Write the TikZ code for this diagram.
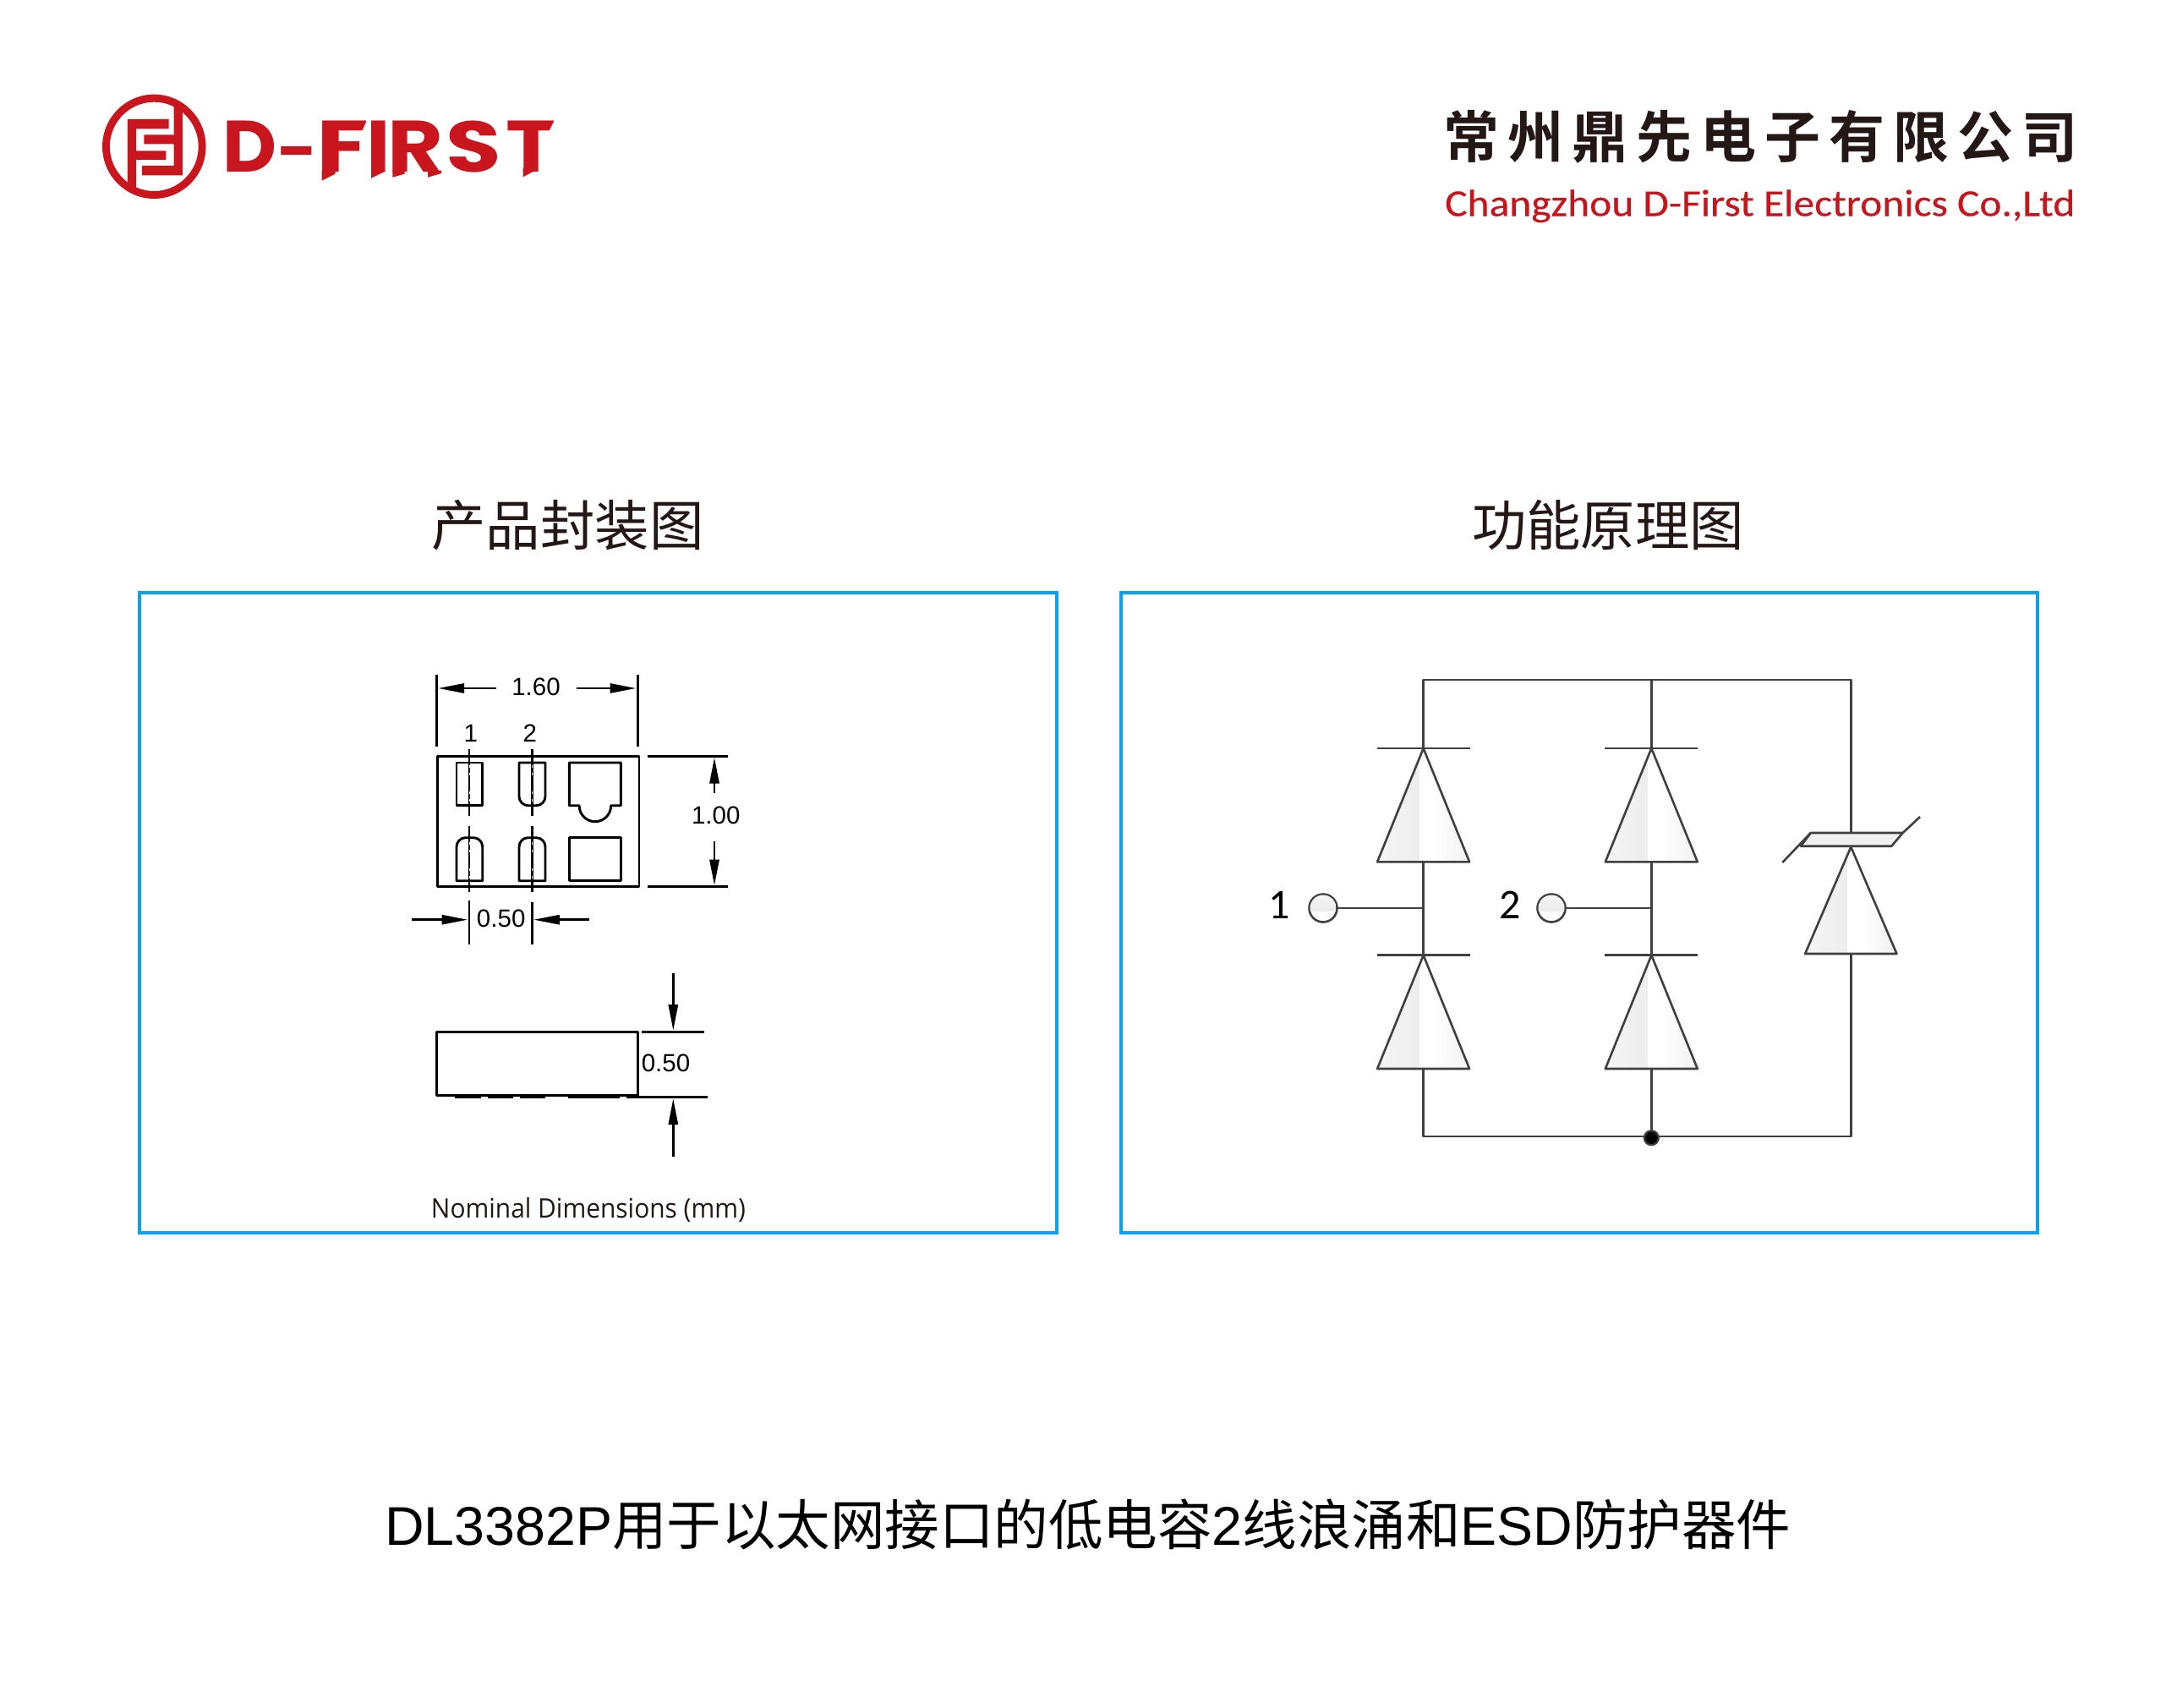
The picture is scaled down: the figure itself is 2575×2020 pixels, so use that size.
\documentclass[tikz,border=0pt]{standalone}
\usepackage{fontspec}
\usetikzlibrary{arrows.meta}
\setmainfont{Liberation Sans}
\newfontfamily\cjkf{Noto Sans CJK SC}
\newfontfamily\cjkb[LetterSpace=15.2,BoldFont={Noto Sans CJK SC Bold}]{Noto Sans CJK SC}
\newfontfamily\carl{Carlito}
\newfontfamily\carlb[FakeBold=0.25]{Carlito}
\newfontfamily\opens{Open Sans}
\newfontfamily\logof{Poppins}
\definecolor{dfred}{HTML}{C9151E}
\definecolor{dfred2}{HTML}{C4161C}
\definecolor{dfink}{HTML}{231815}
\definecolor{dfblue}{HTML}{0FA0E6}
\definecolor{dfline}{HTML}{404040}
\tikzset{
  panelbox/.style={draw=dfblue,line width=4pt},
  pkg/.style={draw=black,line width=2.9pt,line join=round},
  dimline/.style={draw=black,line width=2.9pt},
  dimarrow/.style={draw=black,line width=2.9pt,-{Triangle[length=31pt,width=11pt]}},
  dimtext/.style={anchor=base,inner sep=0pt,font=\fontsize{29.5}{32}\selectfont},
  wire/.style={draw=dfline,line width=2.6pt,line join=round},
  headtext/.style={anchor=base,inner sep=0pt,text=dfink,font=\fontsize{64.4}{70}\selectfont\cjkf},
}
\newcommand{\dfdiode}[5]{% name, tip x, tip y, base y, half width
  \begin{scope}
    \clip (#2,#3) -- (#2+#5,#4) -- (#2-#5,#4) -- cycle;
    \shade[left color=white!96!black,right color=white!93!black] (#2-#5,#3) rectangle (#2-5,#4);
    \shade[left color=white,right color=white!95!black] (#2+10,#3) rectangle (#2+#5,#4);
  \end{scope}
  \draw[wire] (#2,#3) -- (#2+#5,#4) -- (#2-#5,#4) -- cycle;
  \coordinate (#1tip) at (#2,#3);
  \coordinate (#1base) at (#2,#4);
}
\newcommand{\dfcentre}[3]{% x, y0, y1
  \draw[dimline,line width=2.4pt] (#1,#2) -- (#1,#3);
}
\newcommand{\dflg}[3]{\rlap{\hskip#1pt\resizebox{#2pt}{60.5pt}{\logof\bfseries #3}}}
\begin{document}
\begin{tikzpicture}[x=1pt,y=-1pt]
\useasboundingbox (0,0) rectangle (2575,2020);
\fill[white] (0,0) rectangle (2575,2020);

% ---- logo mark (coordinates of the 600x170 crop)
\begin{scope}[shift={(100,90)},xscale=1/2.613,yscale=1/3]
  \fill[dfred,even odd rule] (215,250) ellipse [x radius=160,y radius=185]
                             (215,250) ellipse [x radius=137,y radius=158];
  \fill[dfred] (133,153) -- (260,153) -- (260,187) -- (160,187) -- (160,265) -- (252,265)
     -- (252,297) -- (160,297) -- (160,405) -- (133,385) -- cycle;
  \fill[dfred] (184,208) -- (276,208) -- (276,95) -- (303,110) -- (303,352) -- (178,352)
     -- (178,318) -- (276,318) -- (276,241) -- (184,241) -- cycle;
\end{scope}
\node[anchor=base west,inner sep=0pt,text=dfred] (brand) at (269,204)
  {\hbox to 387pt{\dflg{-6}{64}{D}%
    \rlap{\hskip59.5pt\resizebox{47.5pt}{30pt}{\logof\bfseries -}}%
    \dflg{105.5}{62.5}{F}\dflg{164}{28.5}{I}\dflg{189}{66}{R}\dflg{258.5}{65.5}{S}\dflg{329}{60}{T}\hss}};
\begin{scope}[shift={(100,90)},xscale=1/2.613,yscale=1/3]
  % cut ends of the word mark
  \fill[dfred] (733,335) -- (775,335) -- (775,347) -- (733,371) -- cycle;
  \fill[dfred] (886,335) -- (929,335) -- (929,338) -- (886,362) -- cycle;
  \fill[dfred] (952,335) -- (989,335) -- (989,347) -- (952,359) -- cycle;
  \fill[dfred] (1061,335) -- (1103,335) -- (1103,345) -- (1061,359) -- cycle;
  \fill[dfred] (1355,325) -- (1401,325) -- (1401,330) -- (1355,358) -- cycle;
  \fill[white] (873,155) -- (855,204) -- (884,204) -- (884,155) -- cycle;
  \fill[white] (873,248) -- (851,296) -- (884,296) -- (884,248) -- cycle;
  \fill[white] (1453,155) -- (1432,204) -- (1470,204) -- (1470,155) -- cycle;
\end{scope}

% ---- company name
\node[anchor=base west,inner sep=0pt,text=dfink] (cn) at (1707,187)
  {\fontsize{66}{70}\selectfont\cjkb\bfseries 常州鼎先电子有限公司};
\node[anchor=base west,inner sep=0pt,text=dfred2] (en) at (1709,255.5)
  {\scalebox{1.1}[1]{\fontsize{45}{50}\selectfont\carlb Changzhou D-First Electronics Co.,Ltd}};

% ---- headings
\node[headtext] (h1) at (671.5,645) {产品封装图};
\node[headtext] (h2) at (1902,645) {功能原理图};
\node[anchor=base west,inner sep=0pt,text=black,font=\fontsize{64.5}{70}\selectfont] (foot) at (455,1827)
  {DL3382P{\cjkf 用于以太网接口的低电容}2{\cjkf 线浪涌和}ESD{\cjkf 防护器件}};

% ---- panels
\draw[panelbox] (165,700.5) rectangle (1250,1457.5);
\draw[panelbox] (1326,700.5) rectangle (2410,1457.5);

% ---- package top view
\draw[pkg] (517.7,894.3) rectangle (756,1048.7);
\draw[pkg] (540,902) rectangle (570.7,952.7);
\draw[pkg] (614,902) -- (645,902) -- (645,942) arc[start angle=0,end angle=90,radius=10.7] -- (624.7,952.7) arc[start angle=90,end angle=180,radius=10.7] -- cycle;
\draw[pkg] (673.3,902) -- (734.3,902) -- (734.3,952.7) -- (722.7,952.7) arc[start angle=0,end angle=180,x radius=18.8,y radius=19] -- (673.3,952.7) -- cycle;
\draw[pkg] (540,1041.7) -- (570.7,1041.7) -- (570.7,1001.4) arc[start angle=0,end angle=-90,radius=10.7] -- (550.7,990.7) arc[start angle=-90,end angle=-180,radius=10.7] -- cycle;
\draw[pkg] (614,1041.7) -- (645,1041.7) -- (645,1001.4) arc[start angle=0,end angle=-90,radius=10.7] -- (624.7,990.7) arc[start angle=-90,end angle=-180,radius=10.7] -- cycle;
\draw[pkg] (673.3,990.7) rectangle (734.3,1041.7);
% centre lines
\foreach \cx in {555,629.3} {
  \dfcentre{\cx}{886}{965}
  \dfcentre{\cx}{977}{1055}
  \foreach \gy in {905,914,936,945,996,1005,1027,1036}
    \draw[white,line width=1pt] (\cx,\gy) -- (\cx,\gy+3);
}
\node[dimtext] (pin1) at (556.7,877.5) {1};
\node[dimtext] (pin2) at (626.7,877.5) {2};

% 1.60
\draw[dimline] (516.7,798) -- (516.7,883);
\draw[dimline] (754.3,798) -- (754.3,883);
\node[dimtext] (w160) at (634,822.5) {1.60};
\draw[dimarrow] (586.7,814) -- (518,814);
\draw[dimarrow] (682,814) -- (752.7,814);
% 1.00
\draw[dimline] (766,894.3) -- (860.7,894.3);
\draw[dimline] (766,1048.7) -- (860.7,1048.7);
\node[dimtext] (h100) at (846.7,974) {1.00};
\draw[dimarrow] (845,938.3) -- (845,895.5);
\draw[dimarrow] (845,995) -- (845,1047.5);
% 0.50 pitch
\draw[dimline] (555,1065) -- (555,1117);
\draw[dimline] (629.3,1067) -- (629.3,1117);
\node[dimtext] (p050) at (592.7,1096.5) {0.50};
\draw[dimarrow] (487.3,1087.7) -- (553.5,1087.7);
\draw[dimarrow] (697,1087.7) -- (630.8,1087.7);

% ---- package side view
\draw[pkg] (516.7,1220.3) rectangle (754.7,1295.7);
\foreach \ax/\bx in {538/569,577/607,615/645,672/733,741/755}
  \draw[dimline,line width=2.2pt] (\ax,1297.4) -- (\bx,1297.4);
\draw[dimline] (758.7,1220.3) -- (833.3,1220.3);
\draw[dimline] (754.7,1297.7) -- (836.7,1297.7);
\node[dimtext] (t050) at (787.5,1267.5) {0.50};
\draw[dimarrow] (796.3,1150.7) -- (796.3,1219);
\draw[dimarrow] (796.3,1368.3) -- (796.3,1299);
\node[anchor=base,inner sep=0pt,text=dfink] (nom) at (696,1440)
  {\scalebox{0.94}[1]{\fontsize{31.8}{36}\selectfont\opens Nominal Dimensions (mm)}};

% ---- schematic
\dfdiode{da}{1683.6}{885}{1019.3}{54.5}
\dfdiode{db}{1683.6}{1129.7}{1264}{54.5}
\dfdiode{dc}{1953.3}{885}{1019.3}{54.5}
\dfdiode{dd}{1953.3}{1129.7}{1264}{54.5}
\dfdiode{de}{2189.3}{1001.7}{1128}{54.2}
\coordinate (ta) at (1683.6,804);
\coordinate (tc) at (1953.3,804);
\coordinate (te) at (2189.3,804);
\coordinate (ba) at (1683.6,1344);
\coordinate (bc) at (1953.3,1344);
\coordinate (be) at (2189.3,1344);
\coordinate (ja) at (1683.6,1075.3);
\coordinate (jc) at (1953.3,1075.3);
\coordinate (zt) at (2189.3,985);
\draw[wire] (datip) -- (ta) -- (te) -- (zt);
\draw[wire] (tc) -- (dctip);
\draw[wire] (dabase) -- (dbtip);
\draw[wire] (dcbase) -- (ddtip);
\draw[wire] (dbbase) -- (ba) -- (be) -- (debase);
\draw[wire] (ddbase) -- (bc);
\foreach \n/\bx in {da/1683.6,db/1683.6,dc/1953.3,dd/1953.3}
  \draw[wire] (\bx-55,0 |- \n tip) -- (\bx+55,0 |- \n tip);
% varistor bar
\fill[white!94!black] (2141.7,985) -- (2250.7,985) -- (2237.3,1000.7) -- (2130,1000.7) -- cycle;
\draw[wire] (2141.7,985) -- (2250.7,985) -- (2237.3,1000.7) -- (2130,1000.7) -- cycle;
\coordinate (wl) at (2108.3,1020);
\coordinate (wr) at (2271,966);
\draw[wire] (wl) -- (2141.7,985);
\draw[wire] (2250.7,985) -- (wr);
% terminals
\foreach \nm/\tx/\jn/\lb/\lx in {pa/1565/ja/1/1513,pc/1835/jc/2/1786} {
  \node[circle,draw=dfline,line width=2.6pt,fill=white,minimum size=33pt,inner sep=0pt] (\nm) at (\tx,1074) {};
  \begin{scope}
    \clip (\tx,1074) circle (15.5);
    \shade[top color=white!97!black,bottom color=white!92!black] (\tx-17,1057) rectangle (\tx+17,1077);
  \end{scope}
  \draw[wire] (\nm.east) -- (\nm.east -| \jn);
  \node[anchor=base,inner sep=0pt,font=\fontsize{50}{54}\selectfont\carl] at (\lx,1086.7) {\lb};
}
\node[circle,fill=black,draw=dfline,line width=2.2pt,minimum size=17pt,inner sep=0pt] (dot) at (1953.3,1345.7) {};
\end{tikzpicture}
\end{document}
